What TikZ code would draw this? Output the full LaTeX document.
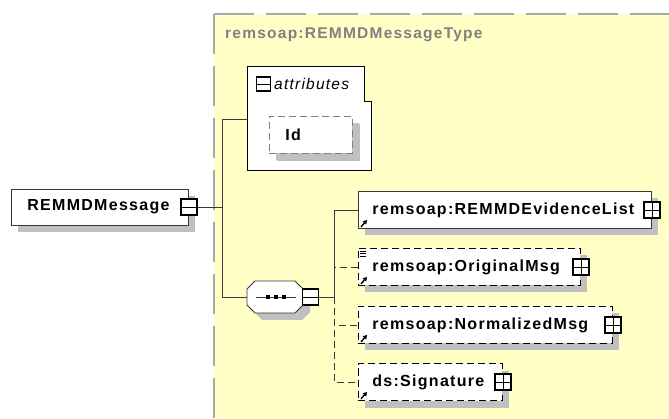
\documentclass[tikz,border=0pt]{standalone}
\usepackage{fontspec}
\setmainfont[LetterSpace=8]{Liberation Sans}
\usetikzlibrary{arrows.meta,calc,shadows}
\definecolor{cY}{HTML}{FFFFC6}
\definecolor{cS}{HTML}{C0C0C0}
\definecolor{cG}{HTML}{A8A8A8}
\definecolor{cT}{HTML}{808080}
\definecolor{cL}{HTML}{383838}
\tikzset{
  elem/.style={draw=cL,line width=.8pt,fill=white,text width=#1,align=left,
              inner xsep=14pt,inner ysep=0pt,minimum height=37pt,anchor=west,
              font=\bfseries\fontsize{16}{18}\selectfont,
              drop shadow={shadow xshift=7pt,shadow yshift=-7pt,fill=cS,opacity=1}},
  opt/.style={dash pattern=on 7pt off 4pt},
  pbox/.style={draw=black,line width=1.8pt,fill=white,minimum size=16pt,inner sep=0pt,
              path picture={\draw[line width=.6pt]
                (path picture bounding box.west) -- (path picture bounding box.east)
                (path picture bounding box.north) -- (path picture bounding box.south);}},
  mbox/.style={draw=black,line width=1.8pt,fill=white,minimum size=16pt,inner sep=0pt,
              path picture={\draw[line width=.6pt]
                (path picture bounding box.west) -- (path picture bounding box.east);}},
  link/.style={draw=cL,line width=.8pt},
  optlink/.style={link,opt},
  refarrow/.style={-{Triangle[length=4pt,width=4.5pt]},line width=1.4pt},
  seqshape/.style={insert path={(247,289) -- (255,281) -- (295,281) -- (303,289)
              -- (303,305) -- (295,313) -- (255,313) -- (247,305) -- cycle}},
}

\begin{document}
\begin{tikzpicture}[x=1pt,y=-1pt]
  \useasboundingbox (0,0) rectangle (669,419);
  % complex type area
  \fill[cY] (214,14) rectangle (669,419);
  \draw[cG,line width=1.2pt,dash pattern=on 40pt off 12pt] (214,14) -- (669,14);
  \draw[cG,line width=1.2pt,dash pattern=on 40pt off 12pt] (214,14) -- (214,419);
  \node[anchor=west,inner sep=0pt,text=cT,font=\bfseries\fontsize{15.5}{18}\selectfont]
    (tname) at (225,35) {remsoap:REMMDMessageType};

  % root element
  \node[elem=145pt,inner xsep=16pt,minimum height=36pt] (root) at (11,207) {REMMDMessage};
  \node[mbox] (rootm) at (root.east) {};

  % attributes
  \draw[fill=white,draw=black,line width=.8pt]
    (247,66) -- (364,66) -- (364,101) -- (371,101) -- (371,170) -- (247,170) -- cycle;
  \coordinate (attr) at (247,119);
  \node[mbox,minimum size=14pt] (attrm) at (263.5,84) {};
  \node[anchor=west,inner sep=0pt,font=\itshape\fontsize{15.5}{18}\selectfont]
    (attrt) at (274,84) {attributes};
  \node[elem=51pt,inner xsep=16pt,draw=cT,opt,
        drop shadow={shadow xshift=8pt,shadow yshift=-8pt,fill=cS,opacity=1}]
    (id) at (269,134.5) {Id};

  % sequence
  \fill[cS,shift={(7,7)},seqshape];
  \draw[link,fill=white,seqshape];
  \coordinate (seqc) at (275,297);
  \coordinate (seqw) at (247,297);
  \draw[link] ([xshift=-19pt]seqc) -- ([xshift=21pt]seqc);
  \foreach \dx in {-7,1,9}
    \fill ([xshift=\dx pt]seqc) +(-2.4,-2.4) rectangle +(2.4,2.4);
  \node[mbox] (seqm) at (310.5,297) {};

  % children
  \node[elem=265pt] (ev) at (358,210) {remsoap:REMMDEvidenceList};
  \node[elem=194pt,draw=black,opt] (orig) at (358,267) {remsoap:OriginalMsg};
  \node[elem=226pt,draw=black,opt] (norm) at (358,325) {remsoap:NormalizedMsg};
  \node[elem=116pt,draw=black,opt] (sig) at (358,382) {ds:Signature};
  \foreach \n in {ev,orig,norm,sig}{
    \node[pbox] (\n p) at (\n.east) {};
    \draw[refarrow] ([shift={(3,-2)}]\n.south west) -- ++(6,-7);
  }
  \foreach \dy in {3,5.5,8}
    \draw[line width=.5pt] ([shift={(2,\dy)}]orig.north west) -- ++(6,0);

  % connectors
  \draw[link] (rootm.east) -- ++(25,0) coordinate (fork1);
  \draw[link] (attr) -| (fork1) |- (seqw);
  \draw[link] (seqm.east) -- ++(15,0) coordinate (fork2);
  \draw[link] (ev.west) -| (fork2);
  \draw[optlink] (orig.west) -- (orig.west -| fork2);
  \draw[optlink] (fork2) |- (norm.west);
  \draw[optlink] (fork2) |- (sig.west);
\end{tikzpicture}
\end{document}
